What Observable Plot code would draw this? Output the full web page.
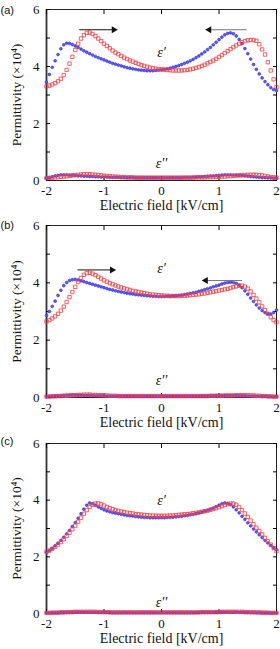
<!DOCTYPE html>
<html>
<head>
<meta charset="utf-8">
<script src="https://cdn.jsdelivr.net/npm/d3@7"></script>
<script src="https://cdn.jsdelivr.net/npm/@observablehq/plot@0.6"></script>
<style>
  body { margin: 0; background: #fff; }
  #chart svg { display: block; }
</style>
</head>
<body>
<div id="chart"></div>
<script>
// Electric field grid (kV/cm), 0.05 step from -2 to 2
const field = d3.range(81).map(i => Math.round((-2 + 0.05 * i) * 100) / 100);

// ---------- Panel (a) ----------
const aBlueReal = [3.45,3.72,3.97,4.20,4.42,4.62,4.76,4.82,4.81,4.77,4.72,4.67,4.61,4.55,4.50,4.45,4.40,4.35,4.31,4.27,4.23,4.19,4.15,4.11,4.08,4.05,4.02,3.99,3.96,3.94,3.92,3.90,3.88,3.87,3.86,3.85,3.85,3.85,3.86,3.87,3.88,3.90,3.92,3.94,3.97,4.00,4.03,4.07,4.11,4.15,4.20,4.25,4.31,4.37,4.44,4.51,4.59,4.67,4.76,4.85,4.94,5.03,5.11,5.16,5.18,5.15,5.07,4.95,4.80,4.63,4.45,4.26,4.07,3.90,3.74,3.60,3.47,3.36,3.26,3.19,3.15];
const aRedReal = [3.30,3.33,3.37,3.42,3.48,3.57,3.70,3.88,4.10,4.34,4.58,4.80,4.98,5.10,5.18,5.19,5.14,5.07,4.98,4.89,4.80,4.72,4.64,4.56,4.49,4.43,4.37,4.31,4.26,4.21,4.17,4.13,4.09,4.05,4.02,3.99,3.96,3.94,3.92,3.91,3.90,3.89,3.88,3.87,3.86,3.86,3.86,3.86,3.87,3.88,3.90,3.92,3.95,3.98,4.02,4.06,4.11,4.16,4.21,4.27,4.33,4.40,4.47,4.54,4.61,4.68,4.74,4.80,4.85,4.89,4.92,4.93,4.93,4.90,4.78,4.60,4.42,4.15,3.86,3.55,3.28];
const aBlueImag = [0.08,0.10,0.13,0.16,0.18,0.20,0.20,0.20,0.19,0.18,0.17,0.16,0.16,0.15,0.15,0.14,0.14,0.13,0.13,0.12,0.12,0.12,0.11,0.11,0.11,0.11,0.10,0.10,0.10,0.10,0.10,0.10,0.10,0.10,0.10,0.10,0.10,0.10,0.10,0.10,0.10,0.10,0.10,0.10,0.10,0.10,0.10,0.10,0.11,0.11,0.11,0.12,0.12,0.13,0.13,0.14,0.15,0.16,0.16,0.17,0.18,0.19,0.20,0.20,0.20,0.19,0.19,0.18,0.17,0.16,0.15,0.14,0.13,0.12,0.11,0.10,0.10,0.09,0.09,0.08,0.08];
const aRedImag = [0.08,0.09,0.10,0.11,0.12,0.13,0.14,0.15,0.16,0.18,0.19,0.20,0.21,0.22,0.22,0.22,0.21,0.20,0.19,0.18,0.17,0.16,0.15,0.14,0.13,0.13,0.12,0.12,0.11,0.11,0.11,0.10,0.10,0.10,0.10,0.10,0.10,0.10,0.10,0.10,0.10,0.10,0.10,0.10,0.10,0.10,0.10,0.10,0.10,0.10,0.10,0.10,0.11,0.11,0.11,0.11,0.12,0.12,0.12,0.13,0.13,0.14,0.14,0.15,0.15,0.16,0.17,0.18,0.19,0.19,0.20,0.20,0.20,0.20,0.19,0.18,0.16,0.14,0.12,0.11,0.10];

// ---------- Panel (b) ----------
const bBlueReal = [2.86,3.00,3.18,3.36,3.56,3.74,3.90,4.01,4.08,4.11,4.12,4.10,4.07,4.04,4.01,3.98,3.95,3.92,3.89,3.86,3.83,3.80,3.77,3.75,3.72,3.70,3.68,3.66,3.64,3.62,3.61,3.59,3.58,3.57,3.56,3.55,3.54,3.53,3.53,3.52,3.52,3.52,3.53,3.53,3.54,3.55,3.56,3.57,3.59,3.61,3.63,3.65,3.67,3.70,3.73,3.76,3.79,3.82,3.86,3.89,3.92,3.96,3.99,4.01,4.02,4.01,3.98,3.92,3.83,3.72,3.60,3.47,3.35,3.23,3.12,3.03,2.96,2.92,2.91,2.96,3.05];
const bRedReal = [2.65,2.70,2.76,2.83,2.92,3.03,3.17,3.33,3.50,3.68,3.86,4.03,4.17,4.28,4.34,4.35,4.32,4.27,4.21,4.15,4.09,4.04,3.99,3.95,3.91,3.87,3.84,3.81,3.78,3.75,3.72,3.70,3.68,3.66,3.64,3.62,3.60,3.59,3.58,3.57,3.56,3.55,3.55,3.54,3.54,3.54,3.54,3.55,3.55,3.56,3.57,3.58,3.59,3.60,3.62,3.63,3.65,3.67,3.69,3.71,3.73,3.75,3.77,3.79,3.82,3.85,3.88,3.90,3.90,3.87,3.80,3.70,3.58,3.45,3.32,3.18,3.05,2.92,2.80,2.70,2.62];
const bBlueImag = [0.03,0.04,0.05,0.06,0.06,0.07,0.07,0.08,0.08,0.08,0.08,0.08,0.08,0.07,0.07,0.07,0.07,0.06,0.06,0.06,0.06,0.05,0.05,0.05,0.05,0.05,0.05,0.05,0.05,0.05,0.05,0.05,0.05,0.05,0.05,0.05,0.05,0.05,0.05,0.05,0.05,0.05,0.05,0.05,0.05,0.05,0.05,0.05,0.05,0.05,0.05,0.05,0.05,0.05,0.06,0.06,0.06,0.06,0.06,0.07,0.07,0.07,0.07,0.07,0.07,0.07,0.07,0.06,0.06,0.06,0.05,0.05,0.05,0.04,0.04,0.04,0.04,0.03,0.03,0.03,0.03];
const bRedImag = [0.03,0.03,0.04,0.04,0.05,0.05,0.06,0.06,0.07,0.08,0.08,0.09,0.09,0.10,0.10,0.10,0.09,0.09,0.08,0.08,0.07,0.07,0.06,0.06,0.06,0.05,0.05,0.05,0.05,0.05,0.05,0.05,0.05,0.05,0.05,0.05,0.05,0.05,0.05,0.05,0.05,0.05,0.05,0.05,0.05,0.05,0.05,0.05,0.05,0.05,0.05,0.05,0.05,0.05,0.05,0.05,0.05,0.06,0.06,0.06,0.06,0.06,0.07,0.07,0.07,0.07,0.08,0.08,0.08,0.08,0.08,0.07,0.07,0.06,0.06,0.05,0.05,0.04,0.04,0.03,0.03];

// ---------- Panel (c) ----------
const cBlueReal = [2.15,2.22,2.30,2.39,2.48,2.58,2.69,2.81,2.93,3.07,3.21,3.36,3.52,3.68,3.82,3.90,3.88,3.82,3.76,3.71,3.66,3.62,3.59,3.56,3.54,3.52,3.50,3.48,3.46,3.45,3.44,3.42,3.41,3.40,3.39,3.39,3.38,3.38,3.38,3.38,3.38,3.38,3.39,3.39,3.40,3.41,3.42,3.43,3.45,3.46,3.48,3.50,3.52,3.55,3.58,3.61,3.64,3.68,3.72,3.77,3.82,3.87,3.90,3.89,3.84,3.76,3.66,3.55,3.43,3.32,3.20,3.09,2.98,2.88,2.78,2.68,2.58,2.49,2.40,2.32,2.25];
const cRedReal = [2.18,2.22,2.28,2.35,2.43,2.52,2.62,2.73,2.85,2.97,3.10,3.24,3.38,3.52,3.65,3.76,3.84,3.88,3.89,3.86,3.81,3.76,3.72,3.68,3.65,3.62,3.60,3.58,3.56,3.54,3.53,3.51,3.50,3.49,3.48,3.47,3.46,3.46,3.45,3.45,3.45,3.45,3.45,3.46,3.46,3.47,3.48,3.49,3.50,3.51,3.52,3.54,3.55,3.57,3.59,3.61,3.63,3.66,3.69,3.72,3.75,3.79,3.83,3.86,3.88,3.88,3.84,3.76,3.65,3.53,3.41,3.28,3.15,3.03,2.91,2.79,2.67,2.55,2.43,2.31,2.20];
const cBlueImag = [0.02,0.02,0.03,0.03,0.03,0.04,0.04,0.04,0.04,0.05,0.05,0.05,0.05,0.05,0.05,0.05,0.05,0.05,0.04,0.04,0.04,0.04,0.04,0.03,0.03,0.03,0.03,0.03,0.03,0.03,0.03,0.03,0.03,0.03,0.03,0.03,0.03,0.03,0.03,0.03,0.03,0.03,0.03,0.03,0.03,0.03,0.03,0.03,0.03,0.03,0.03,0.03,0.03,0.04,0.04,0.04,0.04,0.04,0.04,0.05,0.05,0.05,0.05,0.05,0.05,0.05,0.05,0.04,0.04,0.04,0.04,0.03,0.03,0.03,0.03,0.03,0.02,0.02,0.02,0.02,0.02];
const cRedImag = [0.02,0.02,0.03,0.03,0.03,0.04,0.04,0.05,0.05,0.05,0.06,0.06,0.06,0.06,0.06,0.06,0.06,0.06,0.05,0.05,0.05,0.05,0.04,0.04,0.04,0.04,0.04,0.04,0.04,0.04,0.04,0.04,0.04,0.04,0.04,0.04,0.04,0.04,0.04,0.04,0.04,0.04,0.04,0.04,0.04,0.04,0.04,0.04,0.04,0.04,0.04,0.04,0.04,0.04,0.05,0.05,0.05,0.05,0.05,0.05,0.05,0.06,0.06,0.06,0.06,0.06,0.06,0.06,0.06,0.05,0.05,0.05,0.05,0.04,0.04,0.03,0.03,0.03,0.02,0.02,0.02];

// Annotations (data units): sweep-direction arrows and ε labels
const aArrows = [{x1: -1.43, x2: -0.83, y: 5.29, dir: 1}, {x1: 1.48, x2: 0.83, y: 5.29, dir: -1}];
const bArrows = [{x1: -1.46, x2: -0.86, y: 4.45, dir: 1}, {x1: 1.40, x2: 0.77, y: 4.08, dir: -1}];
const aLabels = [{x: 0, y: 4.5, t: "ε'"}, {x: 0, y: 0.6, t: "ε''"}];
const bLabels = [{x: 0, y: 4.5, t: "ε'"}, {x: 0, y: 0.6, t: "ε''"}];
const cLabels = [{x: 0, y: 4.0, t: "ε'"}, {x: 0, y: 0.4, t: "ε''"}];

const xTicks = [-2, -1, 0, 1, 2];
const yTicks = [0, 1, 2, 3, 4, 5, 6];
const yLabelTicks = [0, 2, 4, 6];

const serif = "'Liberation Serif', 'Times New Roman', serif";
const BLUE = "#2a2ae8";
const RED = "#ff3a3a";
const none = () => "";

function panel(tag, blueR, redR, blueI, redI, arrows, labels, m) {
  const rows = (vals, series) => field.map((x, i) => ({x, y: vals[i], series}));
  const blue = rows(blueR, "b").concat(rows(blueI, "b"));
  const red = rows(redR, "r").concat(rows(redI, "r"));
  const marks = [
    Plot.frame({stroke: "#222", strokeWidth: 1}),
    Plot.ruleX([-2], {stroke: "#333", strokeWidth: 1.8}),
    // inward ticks on all four sides
    Plot.axisX({anchor: "bottom", ticks: xTicks, tickSize: -4, tickFormat: none, label: null}),
    Plot.axisX({anchor: "top", ticks: xTicks, tickSize: -4, tickFormat: none, label: null}),
    Plot.axisY({anchor: "left", ticks: yTicks, tickSize: -4, tickFormat: none, label: null}),
    Plot.axisY({anchor: "right", ticks: yTicks, tickSize: -4, tickFormat: none, label: null}),
    // tick labels
    Plot.axisX({anchor: "bottom", ticks: xTicks, tickSize: 0, tickPadding: 5,
      tickFormat: d => (d < 0 ? "-" + Math.abs(d) : String(d)), fontSize: 13, fill: "#111", label: null}),
    Plot.axisY({anchor: "left", ticks: yLabelTicks, tickSize: 0, tickPadding: 7, tickFormat: d => String(d),
      fontSize: 13, fill: "#111", label: null}),
    Plot.text(["Electric field [kV/cm]"], {frameAnchor: "bottom", dy: m.xlab, textAnchor: "middle", fontSize: 14, fill: "#111"}),
    Plot.text(["Permittivity (×10⁴)"], {frameAnchor: "left", dx: -30, textAnchor: "middle", rotate: -90, fontSize: 13.5, fill: "#111"}),
    Plot.text([tag], {frameAnchor: "top-left", dx: -46, dy: -m.top + 6, textAnchor: "start", fontSize: 11,
      fontFamily: "'Liberation Sans', Arial, sans-serif", fill: "#111"}),
    Plot.dot(blue, {x: "x", y: "y", r: 1.4, fill: "#5a5aff", stroke: BLUE, strokeWidth: 0.6}),
    Plot.dot(red, {x: "x", y: "y", symbol: "square", r: 1.9, fill: "none", stroke: RED, strokeWidth: 0.8}),
    Plot.text(labels, {x: "x", y: "y", text: "t", fontSize: 14, fontStyle: "italic", fill: "#111"})
  ];
  if (arrows) {
    marks.push(
      Plot.link(arrows, {x1: "x1", x2: "x2", y1: "y", y2: "y", stroke: d => d.dir > 0 ? "#111" : "#777", strokeWidth: 1}),
      Plot.dot(arrows, {x: "x2", y: "y", symbol: "triangle", r: 2.6, fill: "#111", rotate: d => d.dir > 0 ? 90 : -90})
    );
  }
  return Plot.plot({
    width: 280,
    height: m.height,
    marginLeft: 46,
    marginRight: 4,
    marginTop: m.top,
    marginBottom: m.bottom,
    style: {background: "#fff", fontFamily: serif},
    x: {domain: [-2, 2], axis: null},
    y: {domain: [0, 6], axis: null},
    marks
  });
}

const chart = document.getElementById("chart");
chart.append(panel("(a)", aBlueReal, aRedReal, aBlueImag, aRedImag, aArrows, aLabels, {height: 215, top: 9, bottom: 35, xlab: 29}));
chart.append(panel("(b)", bBlueReal, bRedReal, bBlueImag, bRedImag, bArrows, bLabels, {height: 216, top: 10, bottom: 34, xlab: 29}));
chart.append(panel("(c)", cBlueReal, cRedReal, cBlueImag, cRedImag, null, cLabels, {height: 218, top: 12, bottom: 36, xlab: 29}));
</script>
</body>
</html>
